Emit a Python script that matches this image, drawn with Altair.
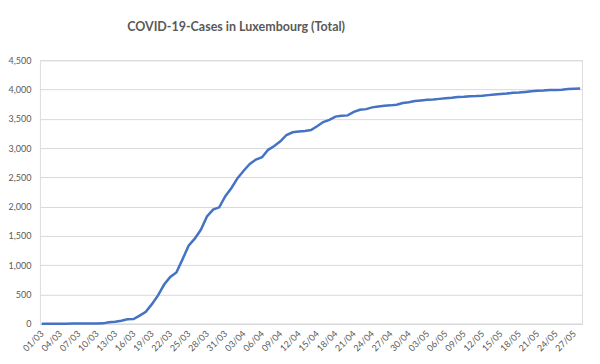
import altair as alt
import pandas as pd
import datetime as dt

start = dt.date(2020, 3, 1)
cases = [
    1, 1, 1, 1, 2, 3, 3, 3, 3, 5, 7, 26, 34, 51, 77, 81, 140, 203, 335, 484,
    670, 798, 875, 1099, 1333, 1453, 1605, 1831, 1950, 1988, 2178, 2319, 2487, 2612, 2729, 2804,
    2843, 2970, 3034, 3115, 3223, 3270, 3281, 3292, 3307, 3373, 3444, 3480, 3537, 3550, 3558,
    3618, 3654, 3665, 3695, 3711, 3723, 3729, 3741, 3769, 3784, 3802, 3812, 3824, 3828, 3840,
    3851, 3859, 3871, 3877, 3886, 3888, 3894, 3904, 3915, 3923, 3930, 3945, 3947, 3958, 3971,
    3980, 3981, 3990, 3993, 3995, 4008, 4012, 4016,
]
dates = [(start + dt.timedelta(days=i)).strftime("%d/%m") for i in range(len(cases))]
tick_labels = dates[::3]
title_text = "COVID-19-Cases in Luxembourg (Total)"

df = pd.DataFrame({"date": dates, "cases": cases})

FONT = "Lato"
GREY = "#595959"

chart = alt.Chart(df, title=alt.Title(
    title_text, font=FONT, fontSize=12.5, fontWeight="bold", color=GREY,
    anchor="middle", dx=-75, offset=13, baseline="alphabetic",
)).mark_line(color="#4472C4", strokeWidth=2.5).encode(
    x=alt.X("date:O", sort=None, title=None,
            scale=alt.Scale(type="point", padding=0.3),
            axis=alt.Axis(values=tick_labels, labelAngle=-45, labelAlign="right",
                          labelBaseline="middle", labelPadding=8, ticks=False,
                          domainColor="#d9d9d9", labelColor=GREY, labelFont=FONT,
                          labelFontSize=9, grid=False)),
    y=alt.Y("cases:Q", title=None,
            scale=alt.Scale(domain=[0, 4500], nice=False),
            axis=alt.Axis(values=list(range(0, 4501, 500)), format=",d", ticks=False,
                          domain=False, labelPadding=9, labelColor=GREY, labelFont=FONT,
                          labelFontSize=9, gridColor="#d9d9d9", gridWidth=1)),
).properties(
    width=543, height=264,
    autosize=alt.AutoSizeParams(type="none"),
    padding={"left": 32, "top": 52, "right": 10, "bottom": 40},
).configure_view(stroke=None).configure(background="white")

chart.save("out.html", embed_options={"renderer": "svg", "actions": False})
